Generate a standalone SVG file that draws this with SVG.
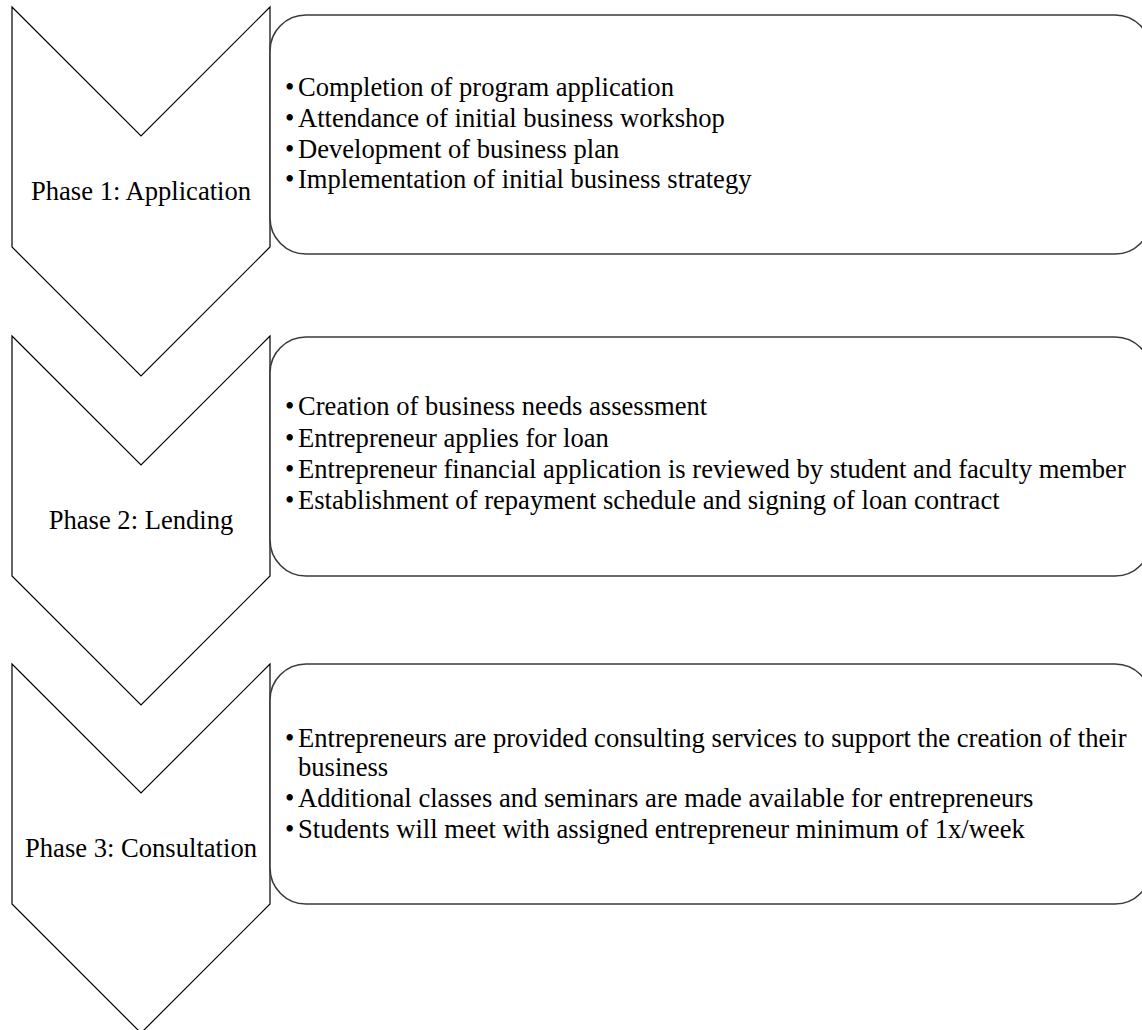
<svg xmlns="http://www.w3.org/2000/svg" width="1142" height="1030" viewBox="0 0 1142 1030">
<style>
.chev{fill:#fff;stroke:#000;stroke-width:1.2}
.box{fill:#fff;stroke:#3a3a3a;stroke-width:1.6}
text{font-family:"Liberation Serif","Times New Roman",serif;font-size:26.6px;fill:#000}
.lbl{text-anchor:middle}
</style>
<rect width="1142" height="1030" fill="#fff"/>
<g id="phase1">
<polygon class="chev" points="12,7 141,136 270,7 270,247 141,376 12,247"/>
<text class="lbl" x="141" y="200">Phase 1: Application</text>
</g>
<g id="details1">
<rect class="box" x="270" y="15" width="881" height="239" rx="36" ry="36"/>
<text x="285" y="96">•</text><text x="298" y="96">Completion of program application</text>
<text x="285" y="127">•</text><text x="298" y="127">Attendance of initial business workshop</text>
<text x="285" y="158">•</text><text x="298" y="158">Development of business plan</text>
<text x="285" y="188">•</text><text x="298" y="188">Implementation of initial business strategy</text>
</g>
<g id="phase2">
<polygon class="chev" points="12,336 141,465 270,336 270,576 141,705 12,576"/>
<text class="lbl" x="141" y="529">Phase 2: Lending</text>
</g>
<g id="details2">
<rect class="box" x="270" y="337" width="881" height="239" rx="36" ry="36"/>
<text x="285" y="415">•</text><text x="298" y="415">Creation of business needs assessment</text>
<text x="285" y="447">•</text><text x="298" y="447">Entrepreneur applies for loan</text>
<text x="285" y="478">•</text><text x="298" y="478">Entrepreneur financial application is reviewed by student and faculty member</text>
<text x="285" y="509">•</text><text x="298" y="509">Establishment of repayment schedule and signing of loan contract</text>
</g>
<g id="phase3">
<polygon class="chev" points="12,664 141,793 270,664 270,904 141,1033 12,904"/>
<text class="lbl" x="141" y="857">Phase 3: Consultation</text>
</g>
<g id="details3">
<rect class="box" x="270" y="664" width="881" height="240" rx="36" ry="36"/>
<text x="285" y="747">•</text><text x="298" y="747">Entrepreneurs are provided consulting services to support the creation of their</text>
<text x="298" y="776">business</text>
<text x="285" y="807">•</text><text x="298" y="807">Additional classes and seminars are made available for entrepreneurs</text>
<text x="285" y="838">•</text><text x="298" y="838">Students will meet with assigned entrepreneur minimum of 1x/week</text>
</g>
<g id="connectors"></g>
</svg>
